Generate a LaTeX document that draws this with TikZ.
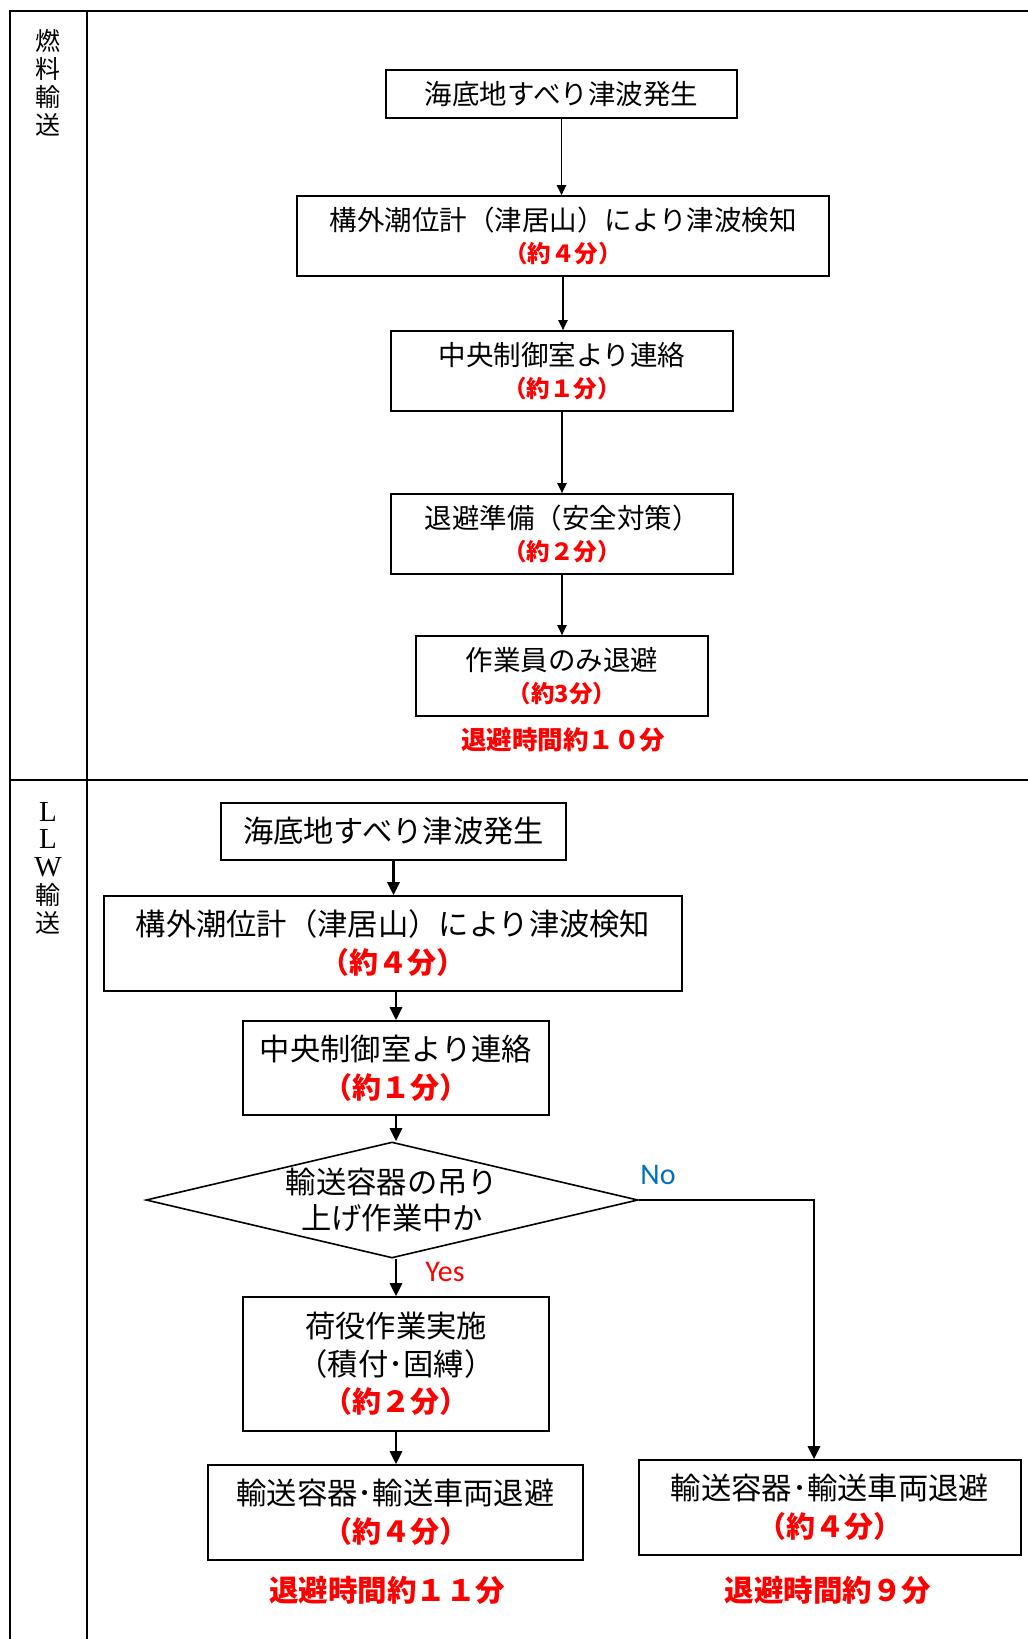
\documentclass[tikz,border=0pt]{standalone}
\usepackage{fontspec}
\setmainfont{Noto Sans CJK JP}
\newfontfamily\yesnofont{Carlito}
\newfontfamily\letterfont{Liberation Serif}
\usetikzlibrary{arrows.meta,shapes.geometric}
\definecolor{noblue}{RGB}{0,112,192}
\newcommand{\redtop}[1]{{\color{red}\bfseries\fontsize{23.5}{32}\selectfont #1}}
\newcommand{\redbot}[1]{{\color{red}\bfseries\fontsize{29}{38}\selectfont #1}}

\begin{document}
\begin{tikzpicture}[x=1pt, y=-1pt,
    box/.style={draw, line width=1.6pt, inner sep=0pt, align=center},
    toptxt/.style={font=\fontsize{27.5}{32}\selectfont},
    bottxt/.style={font=\fontsize{30.3}{38}\selectfont},
    arr/.style={-{Triangle[length=10pt,width=9pt]}, line width=1.9pt},
    barr/.style={-{Triangle[length=13pt,width=12pt]}, line width=2.8pt},
    totaltxt/.style={text=red, font=\bfseries\fontsize{#1}{#1}\selectfont}]
    \useasboundingbox (0,0) rectangle (1028,1639);

    % Table
    \draw[line width=2.6pt] (10,1640) -- (10,11) -- (1030,11);
    \draw[line width=2.6pt] (87,11) -- (87,1640);
    \draw[line width=2.6pt] (10,780) -- (1030,780);
    \node[align=center, font=\fontsize{25}{28}\selectfont] (lblfuel) at (48,83) {燃\\料\\輸\\送};
    \node[align=center, font=\fontsize{25}{27.8}\selectfont] (lblllw) at (48,868)
        {{\letterfont\fontsize{29}{27.8}\selectfont L}\\{\letterfont\fontsize{29}{27.8}\selectfont L}\\{\letterfont\fontsize{29}{27.8}\selectfont W}\\輸\\送};

    % Fuel transport
    \node[box, toptxt, minimum width=351, minimum height=48] (t1) at (561.5,94) {海底地すべり津波発生};
    \node[box, toptxt, minimum width=532, minimum height=80] (t2) at (563,236) {構外潮位計（津居山）により津波検知\\\redtop{（約４分）}};
    \node[box, toptxt, minimum width=342, minimum height=80] (t3) at (562,371) {中央制御室より連絡\\\redtop{（約１分）}};
    \node[box, toptxt, minimum width=342, minimum height=80] (t4) at (562,534) {退避準備（安全対策）\\\redtop{（約２分）}};
    \node[box, toptxt, minimum width=292, minimum height=80] (t5) at (562,676) {作業員のみ退避\\\redtop{（約3分）}};
    \node[totaltxt=25.5] (ttotal) at (563,740) {退避時間約１０分};

    \draw[arr] (t1.south) -- (t1.south |- t2.north);
    \draw[arr] (t2.south) -- (t2.south |- t3.north);
    \draw[arr] (t3.south) -- (t3.south |- t4.north);
    \draw[arr] (t4.south) -- (t4.south |- t5.north);

    % LLW transport
    \node[box, bottxt, minimum width=345, minimum height=57] (b1) at (393.5,831.5) {海底地すべり津波発生};
    \node[box, bottxt, minimum width=578, minimum height=95] (b2) at (393,943.5) {構外潮位計（津居山）により津波検知\\\redbot{（約４分）}};
    \node[box, bottxt, minimum width=306, minimum height=94] (b3) at (396,1068) {中央制御室より連絡\\\redbot{（約１分）}};
    \node[diamond, draw, line width=1.6pt, inner sep=0pt, minimum width=492, minimum height=116] (d) at (392,1200) {};
    \node[align=center, font=\fontsize{30.3}{36}\selectfont] (dtxt) at (d.center) {輸送容器の吊り\\上げ作業中か};
    \node[box, bottxt, font=\fontsize{30.3}{37.5}\selectfont, minimum width=306, minimum height=134] (b4) at (396,1364) {荷役作業実施\\（積付･固縛）\\\redbot{（約２分）}};
    \node[box, bottxt, minimum width=375, minimum height=95] (b5) at (395.5,1512.5) {輸送容器･輸送車両退避\\\redbot{（約４分）}};
    \node[box, bottxt, minimum width=382, minimum height=95] (r1) at (830,1507.5) {輸送容器･輸送車両退避\\\redbot{（約４分）}};
    \node[totaltxt=29.5] (btotal) at (387,1590) {退避時間約１１分};
    \node[totaltxt=29.5] (rtotal) at (828,1590) {退避時間約９分};

    \draw[barr] (b1.south) -- (b1.south |- b2.north);
    \draw[barr] (b2.south -| b3.north) -- (b3.north);
    \draw[barr] (b3.south) -- (b3.south |- d.north);
    \draw[barr] (d.south -| b4.north) -- (b4.north);
    \draw[barr] (b4.south) -- (b4.south |- b5.north);

    % No branch
    \coordinate (noturn) at (814,1200);
    \draw[barr] (d.east) -- (noturn) -- (noturn |- r1.north);
    \node[text=noblue, font=\yesnofont\fontsize{30}{30}\selectfont] (nolbl) at (658,1175) {No};
    \node[text=red, font=\yesnofont\fontsize{30}{30}\selectfont] (yeslbl) at (445,1272) {Yes};
\end{tikzpicture}
\end{document}
